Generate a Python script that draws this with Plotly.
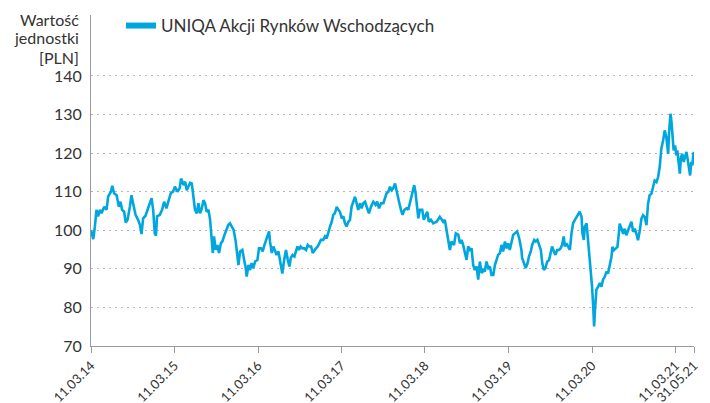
import pandas as pd
import plotly.graph_objects as go

# ---------------- data ----------------
start_date = "2014-03-11"
end_date = "2021-05-31"
series_name = "UNIQA Akcji Rynków Wschodzących"
y_title_lines = ["Wartość", "jednostki", "[PLN]"]

tick_dates = ["2014-03-11", "2015-03-11", "2016-03-11", "2017-03-11",
              "2018-03-11", "2019-03-11", "2020-03-11", "2021-03-11", "2021-05-31"]
tick_labels = ["11.03.14", "11.03.15", "11.03.16", "11.03.17",
               "11.03.18", "11.03.19", "11.03.20", "11.03.21", "31.05.21"]
y_ticks = [70, 80, 90, 100, 110, 120, 130, 140]

# days since 11.03.2014
day_offsets = [
    0, 10, 17, 24, 31, 39, 46, 58, 68, 75, 87, 93, 101, 112, 122, 129, 136, 145, 152, 160,
    170, 177, 184, 195, 206, 214, 221, 228, 238, 247, 257, 265, 272, 279, 284, 289, 301, 311, 320, 330,
    340, 349, 359, 367, 378, 388,
    394, 405, 412, 419, 426, 434, 441, 448, 455, 463, 470, 477, 485, 492, 499, 506, 514, 521, 528, 533,
    538, 546, 553, 560, 568, 575, 584, 594, 601, 608, 616, 624, 633, 640, 645, 652, 662, 670, 677, 681,
    689, 696, 703, 710, 718, 728, 735, 744, 751, 759, 769,
    772, 779, 783, 791, 798, 805, 812, 820, 827, 831, 837, 845, 853, 861, 868, 874, 882, 890, 897, 903,
    910, 917, 925, 933, 941, 948, 955, 963, 970, 977, 984, 992, 999, 1006, 1016, 1024, 1031, 1038, 1046, 1053,
    1060, 1067, 1075, 1082, 1089, 1097, 1104, 1111, 1118, 1126, 1133, 1140,
    1148, 1155, 1162, 1169, 1177, 1184, 1191, 1199, 1206, 1216, 1225, 1235, 1245, 1252, 1260, 1269, 1279, 1286, 1293, 1301,
    1308, 1315, 1322, 1330, 1337, 1344, 1349, 1356, 1363, 1371, 1381, 1388, 1395, 1403, 1410, 1414, 1420, 1426, 1432, 1439,
    1449, 1456, 1464, 1471, 1478, 1487, 1497, 1512,
    1526, 1541, 1548, 1556, 1563, 1570, 1577, 1588, 1596, 1607, 1614, 1621, 1628, 1636, 1643, 1650, 1658, 1665, 1672, 1679,
    1687, 1694, 1701, 1709, 1716, 1723, 1730, 1738, 1745, 1752, 1760, 1767, 1774, 1781, 1789, 1796, 1803, 1811, 1818, 1825,
    1832, 1840, 1847, 1854, 1864, 1873, 1883,
    1886, 1895, 1902, 1910, 1916, 1924, 1930, 1939, 1946, 1953, 1961, 1968, 1974, 1981, 1988, 1996, 2004, 2012, 2017, 2025,
    2032, 2039, 2047, 2054, 2061, 2068, 2073, 2080, 2087, 2095, 2102, 2109, 2117, 2124, 2131, 2138, 2146, 2150, 2156, 2160,
    2168, 2172, 2178, 2185, 2192, 2197, 2201, 2205, 2211, 2219, 2226, 2233, 2240, 2248, 2255,
    2262, 2270, 2277, 2281, 2287, 2296, 2303, 2309, 2313, 2321, 2328, 2335, 2342, 2350, 2357, 2364, 2372, 2379, 2386, 2393,
    2401, 2408, 2415, 2423, 2430, 2437, 2444, 2452, 2459, 2466, 2474, 2481, 2488, 2495, 2503, 2510, 2517, 2525, 2529, 2535,
    2539, 2543, 2549, 2555, 2561, 2565, 2571, 2576, 2581, 2587, 2593, 2599, 2605, 2610, 2616, 2621, 2626, 2631, 2635, 2638,
]

unit_values = [
    100.0, 97.7, 101.0, 105.3, 103.6, 105.3, 104.4, 106.1, 105.3, 108.7, 110.0, 111.5, 109.6, 109.1, 106.1, 107.4, 105.3, 104.8, 102.0, 102.7,
    106.1, 109.1, 107.0, 104.0, 102.7, 101.4, 99.0, 103.1, 103.7, 105.3, 107.4, 108.3, 105.3, 99.2, 98.6, 103.6, 104.0, 105.3, 107.4, 105.7,
    107.8, 109.6, 110.0, 111.3, 110.0, 110.9,
    113.4, 111.7, 112.6, 110.4, 111.3, 112.3, 112.1, 109.1, 105.3, 104.4, 107.0, 104.4, 105.7, 107.8, 107.0, 104.8, 105.3, 102.7, 97.5, 94.1,
    98.4, 94.9, 96.2, 94.1, 96.6, 97.1, 98.8, 100.1, 101.4, 101.8, 101.0, 100.1, 97.1, 94.1, 91.0, 94.5, 94.9, 92.3, 90.2, 88.0,
    91.0, 89.7, 91.5, 90.2, 91.9, 92.3, 95.3, 95.3, 94.5, 96.2, 97.9,
    98.8, 99.7, 97.1, 94.1, 95.8, 94.9, 93.6, 94.5, 92.3, 91.0, 88.8, 92.3, 94.9, 92.3, 90.6, 92.8, 93.6, 93.2, 94.5, 95.8,
    94.9, 95.8, 95.3, 95.3, 94.9, 96.2, 95.8, 95.8, 94.1, 94.9, 95.3, 95.8, 96.6, 97.5, 97.5, 98.4, 97.9, 99.7, 101.0, 102.2,
    104.0, 104.4, 106.1, 105.3, 104.8, 103.1, 103.6, 101.8, 101.0, 102.2, 102.7, 106.1,
    107.8, 108.7, 107.0, 105.3, 107.0, 105.7, 107.0, 107.4, 106.1, 104.4, 106.1, 107.4, 106.6, 107.4, 105.7, 107.0, 107.0, 108.7, 109.6, 110.0,
    111.3, 110.4, 110.9, 112.1, 110.0, 108.7, 107.0, 105.3, 104.0, 105.3, 105.7, 105.3, 107.0, 108.7, 110.0, 111.7, 109.6, 107.0, 103.1, 105.3,
    105.3, 102.7, 103.6, 104.8, 102.2, 102.7, 101.8, 102.2,
    103.5, 102.2, 102.7, 100.1, 97.5, 94.9, 97.1, 96.2, 99.2, 98.8, 96.6, 97.5, 96.2, 94.1, 92.3, 95.8, 94.9, 95.3, 91.0, 89.7,
    90.6, 87.2, 91.9, 88.9, 89.7, 89.3, 91.9, 90.2, 90.6, 88.4, 88.4, 91.0, 92.3, 93.6, 94.1, 96.2, 94.5, 97.1, 95.3, 96.6,
    94.9, 96.6, 98.8, 99.2, 99.7, 98.0, 94.9,
    92.8, 91.0, 90.2, 91.5, 93.2, 94.5, 96.2, 97.5, 97.1, 97.5, 95.8, 94.9, 91.5, 89.7, 90.2, 91.9, 92.3, 94.5, 95.8, 94.5,
    93.6, 94.9, 94.9, 95.3, 96.2, 98.4, 95.8, 96.6, 95.8, 94.9, 99.2, 101.8, 102.7, 103.5, 104.4, 104.8, 103.5, 99.2, 97.5, 100.9,
    101.8, 99.2, 94.9, 91.5, 85.4, 80.3, 75.1, 79.4, 84.6, 85.4, 86.3, 85.4, 87.2, 88.0, 89.3,
    88.8, 91.0, 93.1, 95.7, 94.8, 95.3, 95.7, 99.1, 101.7, 100.4, 99.1, 100.4, 98.7, 100.0, 100.9, 102.2, 99.6, 100.4, 99.1, 97.4,
    100.0, 103.0, 103.9, 103.4, 101.3, 106.9, 109.1, 109.5, 111.2, 112.9, 112.5, 113.8, 116.4, 121.1, 123.3, 125.9, 124.1, 119.8, 125.4, 130.2,
    128.4, 124.1, 120.7, 122.0, 119.4, 120.7, 116.4, 114.7, 119.0, 119.8, 117.7, 119.0, 120.3, 118.5, 116.4, 114.2, 117.7, 116.8, 119.8, 120.3,
]

assert len(day_offsets) == len(unit_values), (len(day_offsets), len(unit_values))

dates = pd.Timestamp(start_date) + pd.to_timedelta(day_offsets, unit="D")

# ---------------- style ----------------
LINE_COLOR = "#00a6de"
TEXT_COLOR = "#333333"
AXIS_COLOR = "#9a9a9a"
GRID_COLOR = "#b4b4b4"
FONT = "Lato, 'Noto Sans', sans-serif"

# the page body has an 8px default margin, so the figure is sized to fill the rest
PAGE_OFF = 8
W, H = 710 - PAGE_OFF, 403 - PAGE_OFF
ML, MR, MT, MB = 91 - PAGE_OFF, 16, 15 - PAGE_OFF, 57
PW = W - ML - MR
PH = H - MT - MB


def px_x(page_x):
    return (page_x - PAGE_OFF - ML) / PW


def px_y(page_y):
    return (H - MB - (page_y - PAGE_OFF)) / PH


fig = go.Figure()
fig.add_trace(go.Scatter(
    x=dates, y=unit_values, mode="lines",
    line=dict(color=LINE_COLOR, width=2.6),
    showlegend=False, hoverinfo="x+y",
))
# legend entry (thicker swatch like the reference)
fig.add_trace(go.Scatter(
    x=[None], y=[None], mode="lines", name=series_name,
    line=dict(color=LINE_COLOR, width=6),
))

title_annotations = []
for i, line_text in enumerate(y_title_lines):
    title_annotations.append(dict(
        text=line_text, xref="paper", yref="paper",
        x=px_x(81), y=px_y(19 + 19 * i),
        xanchor="right", yanchor="middle", align="right", showarrow=False,
        font=dict(size=16, color=TEXT_COLOR),
    ))

fig.update_layout(
    width=W, height=H,
    margin=dict(l=ML, r=MR, t=MT, b=MB, autoexpand=False),
    paper_bgcolor="white", plot_bgcolor="white",
    font=dict(family=FONT, size=16, color=TEXT_COLOR),
    legend=dict(
        x=px_x(121), y=px_y(26), xanchor="left", yanchor="middle",
        bgcolor="rgba(0,0,0,0)", borderwidth=0,
        font=dict(size=17, color=TEXT_COLOR), itemwidth=30,
    ),
    xaxis=dict(
        type="date", automargin=False,
        range=[start_date, end_date],
        tickmode="array", tickvals=tick_dates, ticktext=tick_labels,
        tickangle=-45, tickfont=dict(size=13, color=TEXT_COLOR),
        ticks="outside", ticklen=6, tickcolor=AXIS_COLOR, tickwidth=1,
        showline=True, linecolor=AXIS_COLOR, linewidth=1,
        showgrid=False, zeroline=False,
    ),
    yaxis=dict(
        automargin=False,
        range=[70, 155.8],
        tickmode="array", tickvals=y_ticks,
        tickfont=dict(size=16, color=TEXT_COLOR),
        ticks="", ticklabelstandoff=5,
        showline=True, linecolor=AXIS_COLOR, linewidth=1,
        showgrid=True, gridcolor=GRID_COLOR, gridwidth=1, griddash="2px,4px",
        zeroline=False,
    ),
    annotations=title_annotations,
)

fig.write_html("out.html")
